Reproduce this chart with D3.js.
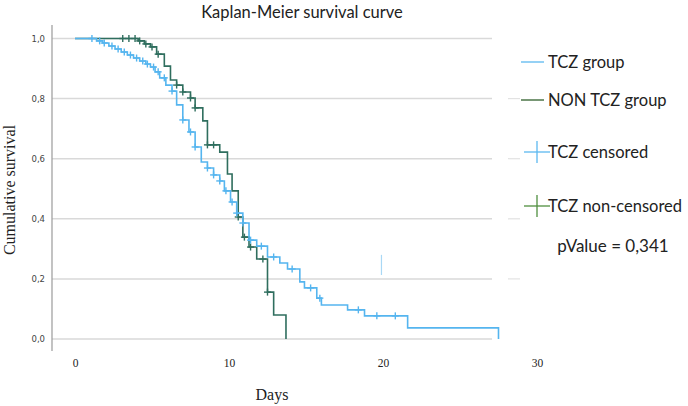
<!DOCTYPE html>
<html>
<head>
<meta charset="utf-8">
<script src="https://cdn.jsdelivr.net/npm/d3@7"></script>
<style>
  body { margin: 0; background: #fff; }
  svg { display: block; }
</style>
</head>
<body>
<div id="chart"></div>
<script>
// step points: day at which survival drops, and survival after the drop
const tczDays = [1.4, 1.8, 2.2, 2.6, 3.0, 3.4, 3.8, 4.2, 4.6, 4.9, 5.2, 5.5, 5.9, 6.3, 6.6, 7.0, 7.4, 7.8, 8.2, 8.6, 9.0, 9.4, 9.7, 10.1, 10.5, 10.9, 11.3, 11.8, 12.5, 13.3, 13.8, 14.6, 14.9, 15.7, 16.0, 17.7, 18.8, 21.6, 27.5];
const tczSurv = [0.992, 0.985, 0.975, 0.965, 0.955, 0.945, 0.935, 0.925, 0.915, 0.905, 0.889, 0.869, 0.845, 0.825, 0.779, 0.729, 0.689, 0.639, 0.589, 0.569, 0.546, 0.526, 0.493, 0.456, 0.419, 0.386, 0.329, 0.309, 0.273, 0.253, 0.233, 0.190, 0.170, 0.136, 0.113, 0.097, 0.077, 0.037, 0];
const tczCensored = [1.1, 1.6, 1.9, 2.4, 2.8, 3.2, 3.6, 4.0, 4.4, 4.7, 5.1, 5.4, 5.8, 6.3, 7.0, 7.5, 7.8, 8.6, 9.0, 9.4, 9.8, 10.2, 10.5, 10.9, 11.4, 12.1, 12.9, 14.1, 15.3, 15.9, 18.4, 19.6, 20.8];

const nonDays = [4.1, 4.5, 4.9, 5.3, 5.8, 6.2, 6.6, 7.0, 7.5, 7.8, 8.3, 8.6, 9.4, 9.9, 10.2, 10.6, 10.9, 11.3, 11.8, 12.5, 12.9, 13.7];
const nonSurv = [0.992, 0.982, 0.972, 0.948, 0.908, 0.862, 0.845, 0.822, 0.802, 0.769, 0.726, 0.646, 0.622, 0.549, 0.493, 0.406, 0.339, 0.306, 0.266, 0.156, 0.080, 0];
const nonCensored = [3.1, 3.5, 3.9, 4.2, 4.6, 5.0, 5.4, 6.6, 7.0, 7.5, 7.8, 8.6, 9.0, 10.6, 11.0, 11.4, 12.2, 12.5];

const yTicks = [0, 0.2, 0.4, 0.6, 0.8, 1.0];
const xTicks = [0, 10, 20, 30];
const legendLabels = ['TCZ group', 'NON TCZ group', 'TCZ censored', 'TCZ non-censored'];
const pValueText = 'pValue = 0,341';

const width = 688, height = 406;
const blue = '#55b5ef', green = '#2f6e5e';

const svg = d3.select('#chart').append('svg')
  .attr('width', width)
  .attr('height', height);

const x = d3.scaleLinear().domain([0, 30]).range([75, 537]);
const y = d3.scaleLinear().domain([0, 1]).range([339, 38.5]);

// gridlines
svg.append('g')
  .selectAll('line')
  .data(yTicks)
  .enter()
  .append('line')
  .attr('x1', 52).attr('x2', 492)
  .attr('y1', d => y(d)).attr('y2', d => y(d))
  .attr('stroke', '#d9d9d9')
  .attr('stroke-width', 1.5);

// little stubs left of the legend
svg.append('g')
  .selectAll('line')
  .data(yTicks.filter(d => d > 0 && d < 1))
  .enter()
  .append('line')
  .attr('x1', 508).attr('x2', 520)
  .attr('y1', d => y(d)).attr('y2', d => y(d))
  .attr('stroke', '#e2e2e2')
  .attr('stroke-width', 1.2);

// y axis
const yAxis = d3.axisLeft(y)
  .tickValues(yTicks)
  .tickSize(0)
  .tickPadding(7)
  .tickFormat(d => d3.format('.1f')(d).replace('.', ','));

const yG = svg.append('g')
  .attr('transform', 'translate(52,0)')
  .call(yAxis);
yG.select('.domain').remove();
yG.selectAll('text')
  .attr('font-family', 'DejaVu Sans')
  .attr('font-size', '8.5px')
  .attr('fill', '#444');
svg.append('line')
  .attr('x1', 52).attr('x2', 52)
  .attr('y1', 25).attr('y2', 351)
  .attr('stroke', '#9a9a9a')
  .attr('stroke-width', 1.2);

// x axis labels
const xAxis = d3.axisBottom(x)
  .tickValues(xTicks)
  .tickSize(0)
  .tickPadding(0);
const xG = svg.append('g')
  .attr('transform', 'translate(0,359)')
  .call(xAxis);
xG.select('.domain').remove();
xG.selectAll('text')
  .attr('font-family', 'Liberation Serif')
  .attr('font-size', '11.5px')
  .attr('fill', '#222');

// step curves
function stepPoints(days, surv) {
  const pts = [[0, 1]];
  days.forEach((d, i) => pts.push([d, surv[i]]));
  return pts;
}
function survAt(days, surv, t) {
  let s = 1;
  days.forEach((d, i) => { if (d <= t) s = surv[i]; });
  return s;
}

const line = d3.line()
  .x(d => x(d[0]))
  .y(d => y(d[1]))
  .curve(d3.curveStepAfter);

const series = [
  { days: nonDays, surv: nonSurv, cens: nonCensored, color: green },
  { days: tczDays, surv: tczSurv, cens: tczCensored, color: blue }
];

series.forEach(s => {
  svg.append('path')
    .datum(stepPoints(s.days, s.surv))
    .attr('d', line)
    .attr('fill', 'none')
    .attr('stroke', s.color)
    .attr('stroke-width', 1.6);

  const marks = svg.append('g')
    .selectAll('g')
    .data(s.cens)
    .enter()
    .append('g')
    .attr('transform', d => `translate(${x(d)},${y(survAt(s.days, s.surv, d))})`);
  marks.append('line')
    .attr('x1', -3.5).attr('x2', 3.5)
    .attr('stroke', s.color).attr('stroke-width', 1.4);
  marks.append('line')
    .attr('y1', -3.5).attr('y2', 3.5)
    .attr('stroke', s.color).attr('stroke-width', 1.4);
});

// stray faint mark
svg.append('line')
  .attr('x1', x(19.9)).attr('x2', x(19.9))
  .attr('y1', y(0.28)).attr('y2', y(0.213))
  .attr('stroke', '#a9d8f5')
  .attr('stroke-width', 1.2);

// title
svg.append('text')
  .attr('x', 302).attr('y', 18)
  .attr('text-anchor', 'middle')
  .attr('font-family', 'Lato')
  .attr('font-size', '16.5px')
  .attr('fill', '#222')
  .text('Kaplan-Meier survival curve');

// axis titles
svg.append('text')
  .attr('transform', 'translate(15,190) rotate(-90)')
  .attr('text-anchor', 'middle')
  .attr('font-family', 'Liberation Serif')
  .attr('font-size', '16px')
  .attr('fill', '#222')
  .text('Cumulative survival');

svg.append('text')
  .attr('x', 272).attr('y', 400)
  .attr('text-anchor', 'middle')
  .attr('font-family', 'Liberation Serif')
  .attr('font-size', '16px')
  .attr('fill', '#222')
  .text('Days');

// legend
const legendY = [62, 100, 152, 206];
const legend = svg.append('g');
legendLabels.forEach((label, i) => {
  const g = legend.append('g').attr('transform', `translate(0,${legendY[i]})`);
  const col = i % 2 === 0 ? '#5cb8f0' : (i === 1 ? '#2f5f2a' : '#4f8f3f');
  if (i < 2) {
    g.append('line').attr('x1', 521).attr('x2', 544)
      .attr('stroke', col).attr('stroke-width', 1.3);
  } else {
    g.append('line').attr('x1', 524).attr('x2', 550)
      .attr('stroke', col).attr('stroke-width', 1.3);
    g.append('line').attr('x1', 537).attr('x2', 537)
      .attr('y1', -11).attr('y2', 11)
      .attr('stroke', col).attr('stroke-width', 1.3);
  }
  g.append('text')
    .attr('x', 548).attr('y', 0)
    .attr('dy', '0.35em')
    .attr('font-family', 'Lato')
    .attr('font-size', '16.5px')
    .attr('fill', '#222')
    .text(label);
});

svg.append('text')
  .attr('x', 613).attr('y', 246)
  .attr('dy', '0.35em')
  .attr('text-anchor', 'middle')
  .attr('font-family', 'Lato')
  .attr('font-size', '17px')
  .attr('fill', '#222')
  .text(pValueText);
</script>
</body>
</html>
